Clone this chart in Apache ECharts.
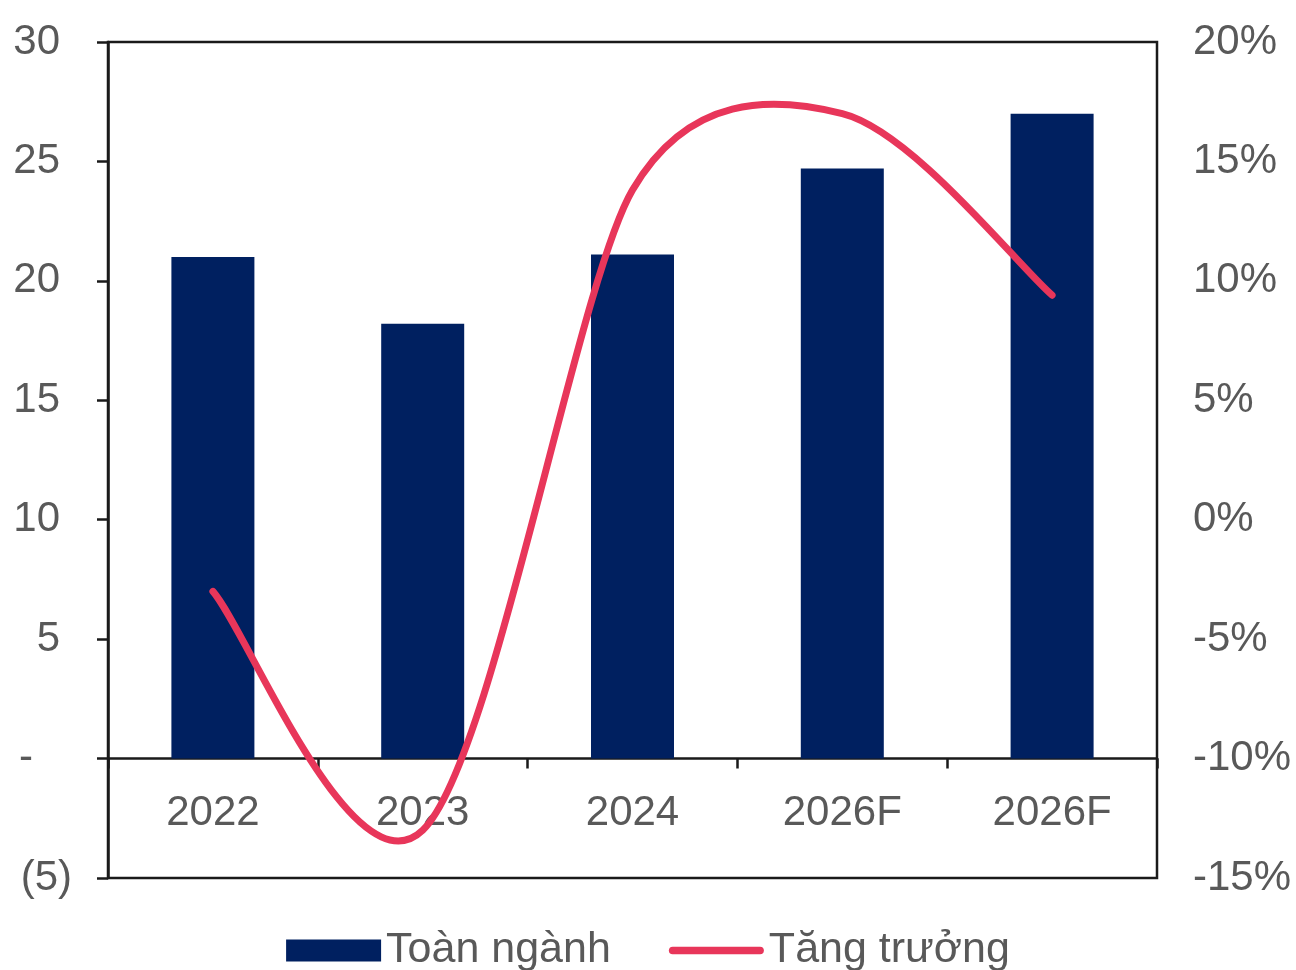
<!DOCTYPE html>
<html>
<head>
<meta charset="utf-8">
<script src="https://cdn.jsdelivr.net/npm/echarts@6/dist/echarts.min.js"></script>
<style>
html,body{margin:0;padding:0;background:#fff;}
#chart{width:1296px;height:970px;}
</style>
</head>
<body>
<div id="chart"></div>
<script>
var categories = ['2022', '2023', '2024', '2026F', '2026F'];
var toanNganh = [21.0, 18.2, 21.1, 24.7, 27.0];
var tangTruong = [-3.0, -13.0, 13.8, 17.0, 9.4];
var leftTicks = { min: -5, max: 30, interval: 5 };
var rightTicks = { min: -15, max: 20, interval: 5 };

var FONT = '"Liberation Sans", Arial, sans-serif';
var GREY = '#595959';
var RED = '#E8365A';

// Excel-style smoothed line: Bezier control points built from pixel coords given by the axes
function smoothPath(pts) {
  function d(a, b) { return Math.sqrt((a[0]-b[0])*(a[0]-b[0]) + (a[1]-b[1])*(a[1]-b[1])); }
  var n = pts.length, tan = [];
  for (var i = 0; i < n; i++) {
    var p0 = pts[Math.max(i-1, 0)], p1 = pts[i], p2 = pts[Math.min(i+1, n-1)];
    var d02 = d(p0, p2), d01 = d(p0, p1), d12 = d(p1, p2);
    var f = 1/6;
    if (d02 > 0 && i > 0 && i < n-1) f = Math.min(1/6, d01/(2*d02), d12/(2*d02));
    tan.push([(p2[0]-p0[0])*f, (p2[1]-p0[1])*f]);
  }
  var s = 'M' + pts[0][0] + ',' + pts[0][1];
  for (var j = 0; j < n-1; j++) {
    var a = pts[j], b = pts[j+1];
    s += ' C' + (a[0]+tan[j][0]) + ',' + (a[1]+tan[j][1]) + ' ' +
         (b[0]-tan[j+1][0]) + ',' + (b[1]-tan[j+1][1]) + ' ' + b[0] + ',' + b[1];
  }
  return s;
}

var lineData = tangTruong.map(function (v, i) { return [i, v]; });

var chart = echarts.init(document.getElementById('chart'), null, { renderer: 'canvas' });
chart.setOption({
  animation: false,
  backgroundColor: '#fff',
  grid: {
    left: 108, right: 139, top: 42, bottom: 92,
    show: true, borderColor: '#1a1a1a', borderWidth: 2.5, backgroundColor: 'transparent'
  },
  legend: {
    left: 'center', top: 924,
    itemWidth: 95, itemHeight: 22, itemGap: 58,
    textStyle: { fontFamily: FONT, fontSize: 43, color: GREY },
    data: [
      { name: 'Toàn ngành', icon: 'rect' },
      { name: 'Tăng trưởng', icon: 'path://M4,0 L96,0 A4,4 0 0 1 96,8 L4,8 A4,4 0 0 1 4,0 Z' }
    ]
  },
  xAxis: {
    type: 'category',
    data: categories,
    boundaryGap: true,
    axisLine: { onZero: true, lineStyle: { color: '#1a1a1a', width: 2.5 } },
    axisTick: { show: true, inside: false, length: 10, lineStyle: { color: '#1a1a1a', width: 2.5 } },
    axisLabel: { fontFamily: FONT, fontSize: 42, color: GREY, margin: -86 },
    splitLine: { show: false }
  },
  yAxis: [
    {
      type: 'value',
      min: leftTicks.min, max: leftTicks.max, interval: leftTicks.interval,
      position: 'left',
      axisLine: { show: true, onZero: false, lineStyle: { color: '#1a1a1a', width: 2.5 } },
      axisTick: { show: true, inside: false, length: 11, lineStyle: { color: '#1a1a1a', width: 2.5 } },
      splitLine: { show: false },
      axisLabel: {
        margin: 36,
        formatter: function (v) {
          if (v === 0) return '{d|-}';
          if (v < 0) return '{n|(' + Math.abs(v) + ')}';
          return '{p|' + v + '}';
        },
        rich: {
          p: { fontFamily: FONT, fontSize: 42, color: GREY, padding: [0, 12, 0, 0] },
          n: { fontFamily: FONT, fontSize: 42, color: GREY },
          d: { fontFamily: FONT, fontSize: 42, color: GREY, padding: [0, 39, 0, 0] }
        }
      }
    },
    {
      type: 'value',
      min: rightTicks.min, max: rightTicks.max, interval: rightTicks.interval,
      position: 'right',
      axisLine: { show: false },
      axisTick: { show: false },
      splitLine: { show: false },
      axisLabel: {
        margin: 36, fontFamily: FONT, fontSize: 42, color: GREY,
        formatter: function (v) { return v + '%'; }
      }
    }
  ],
  series: [
    {
      name: 'Toàn ngành',
      type: 'bar',
      data: toanNganh,
      barWidth: 83,
      z: 2,
      itemStyle: { color: '#002060' }
    },
    {
      name: 'Tăng trưởng',
      type: 'custom',
      coordinateSystem: 'cartesian2d',
      yAxisIndex: 1,
      data: lineData,
      encode: { x: 0, y: 1 },
      z: 10,
      itemStyle: { color: RED },
      clip: false,
      renderItem: function (params, api) {
        if (params.dataIndex !== 0) return null;
        var pts = lineData.map(function (p) { return api.coord([p[0], p[1]]); });
        return {
          type: 'path',
          z2: 10,
          shape: { pathData: smoothPath(pts) },
          style: { fill: 'none', stroke: RED, lineWidth: 7, lineCap: 'round', lineJoin: 'round' }
        };
      }
    }
  ]
});
</script>
</body>
</html>
